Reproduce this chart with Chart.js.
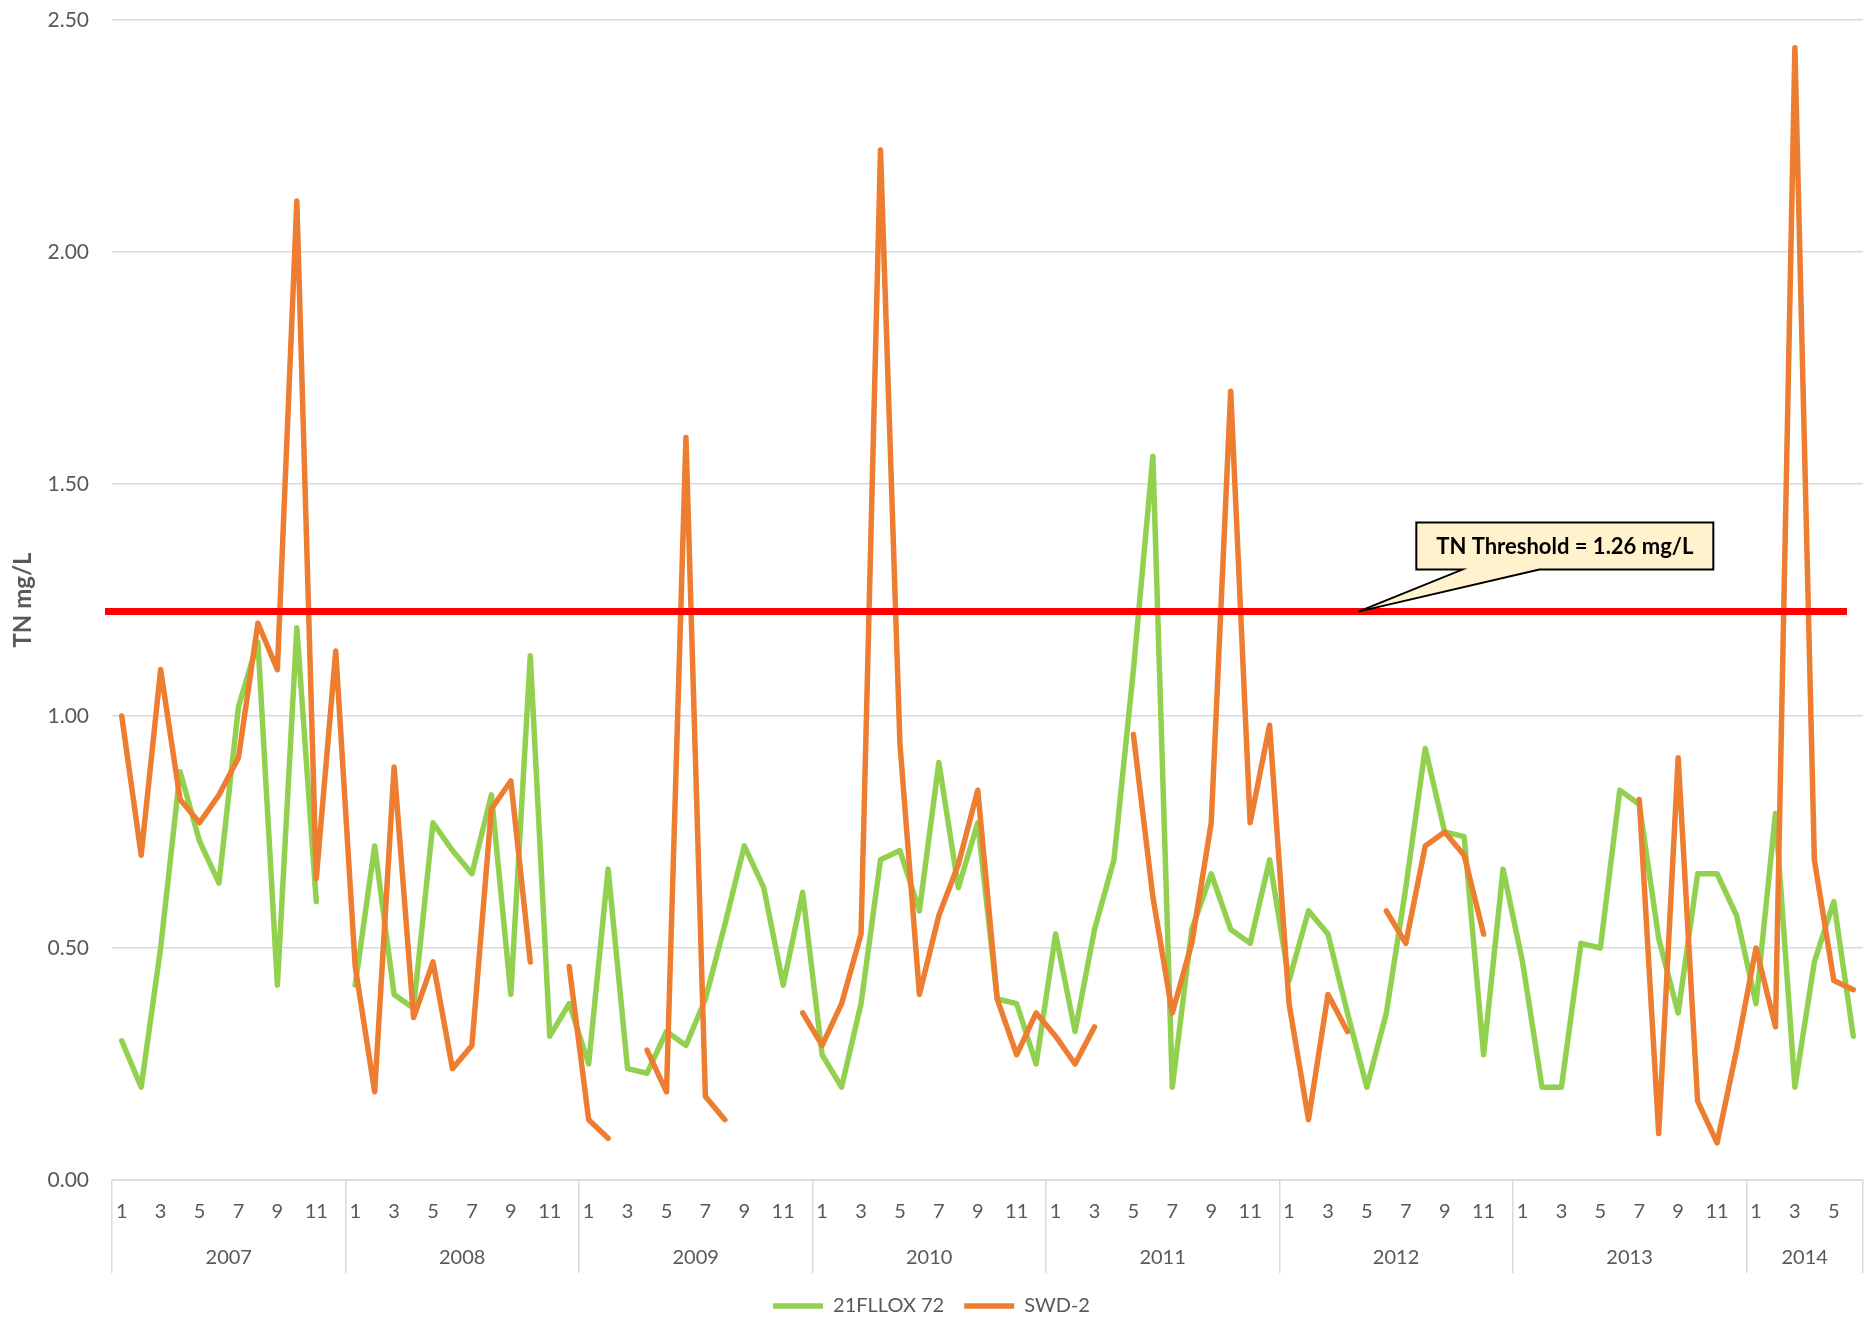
<!DOCTYPE html>
<html>
<head>
<meta charset="utf-8">
<script src="https://cdn.jsdelivr.net/npm/chart.js@4/dist/chart.umd.min.js"></script>
<style>
html,body{margin:0;padding:0;background:#ffffff;}
#wrap{width:1865px;height:1326px;position:relative;}
</style>
</head>
<body>
<div id="wrap"><canvas id="c" width="1865" height="1326"></canvas></div>
<script>
// ---- data ----
const years = [2007, 2008, 2009, 2010, 2011, 2012, 2013, 2014];
const monthsPerYear = [12, 12, 12, 12, 12, 12, 12, 6];
const seriesNames = ['21FLLOX 72', 'SWD-2'];
const fllox72 = [
  0.30, 0.20, 0.50, 0.88, 0.73, 0.64, 1.02, 1.16, 0.42, 1.19, 0.60, null,
  0.42, 0.72, 0.40, 0.37, 0.77, 0.71, 0.66, 0.83, 0.40, 1.13, 0.31, 0.38,
  0.25, 0.67, 0.24, 0.23, 0.32, 0.29, 0.39, 0.55, 0.72, 0.63, 0.42, 0.62,
  0.27, 0.20, 0.38, 0.69, 0.71, 0.58, 0.90, 0.63, 0.77, 0.39, 0.38, 0.25,
  0.53, 0.32, 0.54, 0.69, 1.10, 1.56, 0.20, 0.54, 0.66, 0.54, 0.51, 0.69,
  0.43, 0.58, 0.53, 0.36, 0.20, 0.36, 0.63, 0.93, 0.75, 0.74, 0.27, 0.67,
  0.47, 0.20, 0.20, 0.51, 0.50, 0.84, 0.81, 0.52, 0.36, 0.66, 0.66, 0.57,
  0.38, 0.79, 0.20, 0.47, 0.60, 0.31
];
const swd2 = [
  1.00, 0.70, 1.10, 0.82, 0.77, 0.83, 0.91, 1.20, 1.10, 2.11, 0.65, 1.14,
  0.46, 0.19, 0.89, 0.35, 0.47, 0.24, 0.29, 0.80, 0.86, 0.47, null, 0.46,
  0.13, 0.09, null, 0.28, 0.19, 1.60, 0.18, 0.13, null, null, null, 0.36,
  0.29, 0.38, 0.53, 2.22, 0.94, 0.40, 0.57, 0.68, 0.84, 0.39, 0.27, 0.36,
  0.31, 0.25, 0.33, null, 0.96, 0.61, 0.36, 0.51, 0.77, 1.70, 0.77, 0.98,
  0.38, 0.13, 0.40, 0.32, null, 0.58, 0.51, 0.72, 0.75, 0.70, 0.53, null,
  null, null, null, null, null, null, 0.82, 0.10, 0.91, 0.17, 0.08, 0.28,
  0.50, 0.33, 2.44, 0.69, 0.43, 0.41
];
const thresholdLineValue = 1.225;
const thresholdLabel = 'TN Threshold = 1.26 mg/L';
const calloutTipIndex = 63.56;
const yAxisTitle = 'TN mg/L';

// ---- derived category labels ----
const monthNums = [];
const categoryLabels = [];
years.forEach((y, k) => {
  for (let m = 1; m <= monthsPerYear[k]; m++) {
    monthNums.push(m);
    categoryLabels.push(y + '-' + m);
  }
});

const GRID = '#D9D9D9';
const TXT = '#595959';

const yearLabelsPlugin = {
  id: 'yearLabels',
  afterDraw(chart) {
    const xs = chart.scales.x;
    const ctx = chart.ctx;
    ctx.save();
    ctx.fillStyle = TXT;
    ctx.font = '20px Lato';
    ctx.textAlign = 'center';
    ctx.textBaseline = 'middle';
    let start = 0;
    years.forEach((y, k) => {
      const end = start + monthsPerYear[k] - 1;
      const cx = (xs.getPixelForValue(start) + xs.getPixelForValue(end)) / 2;
      ctx.fillText(String(y), cx, xs.top + 78);
      start = end + 1;
    });
    ctx.restore();
  }
};

const thresholdPlugin = {
  id: 'threshold',
  afterDatasetsDraw(chart) {
    const {ctx, chartArea} = chart;
    const xs = chart.scales.x, ys = chart.scales.y;
    const yv = ys.getPixelForValue(thresholdLineValue);
    ctx.save();
    ctx.strokeStyle = '#FF0000';
    ctx.lineWidth = 7;
    ctx.lineCap = 'butt';
    ctx.beginPath();
    ctx.moveTo(chartArea.left - 7, yv);
    ctx.lineTo(chartArea.right - 16, yv);
    ctx.stroke();

    // callout
    const tx = xs.getPixelForValue(calloutTipIndex);
    const ty = yv;
    const bl = tx + 58, br = tx + 355, bt = ty - 89, bb = ty - 42;
    ctx.beginPath();
    ctx.moveTo(bl, bt);
    ctx.lineTo(br, bt);
    ctx.lineTo(br, bb);
    ctx.lineTo(tx + 181, bb);
    ctx.lineTo(tx, ty);
    ctx.lineTo(tx + 104, bb);
    ctx.lineTo(bl, bb);
    ctx.closePath();
    ctx.fillStyle = '#FFF2CC';
    ctx.fill();
    ctx.strokeStyle = '#000000';
    ctx.lineWidth = 2;
    ctx.lineJoin = 'miter';
    ctx.stroke();
    ctx.fillStyle = '#000000';
    ctx.font = 'bold 22px Lato';
    ctx.textAlign = 'center';
    ctx.textBaseline = 'middle';
    ctx.fillText(thresholdLabel, (bl + br) / 2, (bt + bb) / 2 + 1);
    ctx.restore();
  }
};

function draw() {
  Chart.defaults.font.family = 'Lato, "Open Sans", sans-serif';
  Chart.defaults.color = TXT;
  new Chart(document.getElementById('c'), {
    type: 'line',
    data: {
      labels: categoryLabels,
      datasets: [
        {
          label: seriesNames[0], data: fllox72,
          borderColor: '#92D050', backgroundColor: '#92D050',
          borderWidth: 5.5, pointRadius: 0, pointHoverRadius: 0, tension: 0,
          borderCapStyle: 'round', borderJoinStyle: 'round', spanGaps: false, order: 2
        },
        {
          label: seriesNames[1], data: swd2,
          borderColor: '#ED7D31', backgroundColor: '#ED7D31',
          borderWidth: 5.5, pointRadius: 0, pointHoverRadius: 0, tension: 0,
          borderCapStyle: 'round', borderJoinStyle: 'round', spanGaps: false, order: 1
        }
      ]
    },
    options: {
      responsive: false,
      animation: false,
      devicePixelRatio: 1,
      layout: { padding: { top: 20, right: 2, left: 0, bottom: 0 } },
      plugins: {
        tooltip: { enabled: false },
        legend: {
          position: 'bottom',
          labels: {
            sort: (a, b) => a.datasetIndex - b.datasetIndex,
            usePointStyle: true, pointStyle: 'line', pointStyleWidth: 50,
            padding: 20, color: TXT, font: { size: 20 }
          }
        }
      },
      scales: {
        x: {
          type: 'category',
          offset: true,
          grid: {
            offset: true, drawOnChartArea: false, drawTicks: true, tickLength: 93,
            lineWidth: 1.5,
            color: c => (c.index === undefined || c.index % 12 === 0) ? GRID : 'rgba(0,0,0,0)'
          },
          border: { display: true, color: GRID, width: 1.5 },
          ticks: {
            autoSkip: false, maxRotation: 0, minRotation: 0, padding: -73,
            color: TXT, font: { size: 20 },
            callback: (v, i) => (monthNums[i] % 2 === 1 ? String(monthNums[i]) : '')
          },
          afterFit: s => { s.height = 96; }
        },
        y: {
          min: 0, max: 2.5,
          ticks: { stepSize: 0.5, padding: 0, color: TXT, font: { size: 21 }, callback: v => Number(v).toFixed(2) },
          grid: { color: GRID, lineWidth: 1.5, drawTicks: true, tickLength: 23, tickColor: 'rgba(0,0,0,0)' },
          border: { display: false },
          title: { display: true, text: yAxisTitle, color: TXT, font: { size: 24, weight: 'bold' }, padding: { top: 9, bottom: 0 } },
          afterFit: s => { s.width = 112; }
        }
      }
    },
    plugins: [yearLabelsPlugin, thresholdPlugin]
  });
}

if (document.fonts && document.fonts.load) {
  Promise.all([document.fonts.load('20px Lato'), document.fonts.load('bold 20px Lato')]).then(draw, draw);
} else { draw(); }
</script>
</body>
</html>
